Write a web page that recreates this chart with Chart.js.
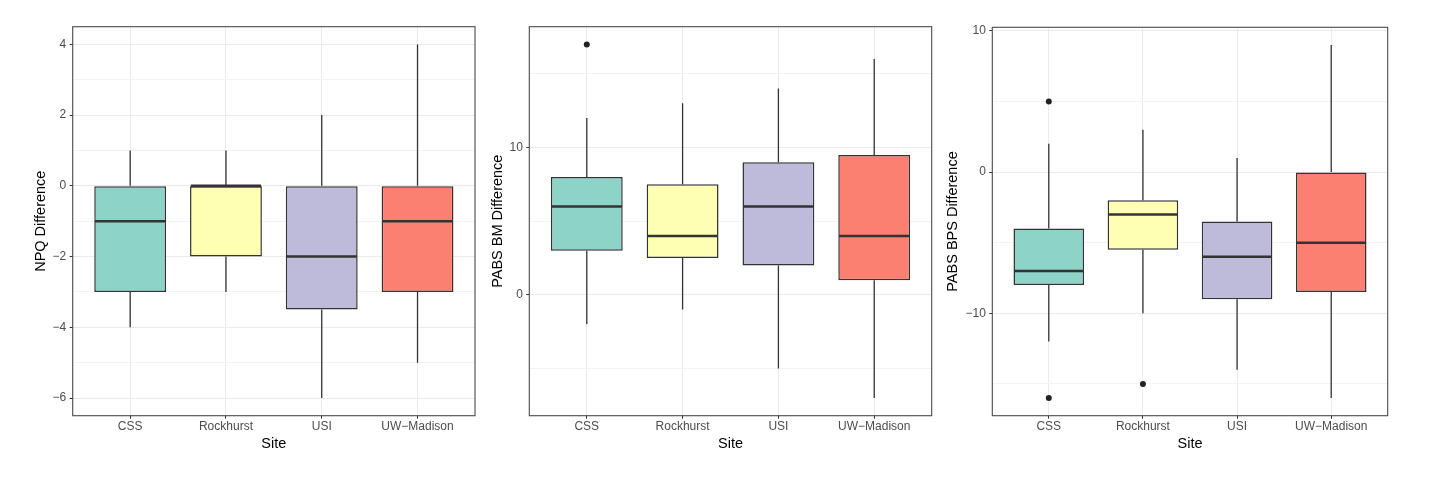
<!DOCTYPE html>
<html>
<head>
<meta charset="utf-8">
<script src="https://cdn.jsdelivr.net/npm/chart.js@4.4.1/dist/chart.umd.min.js"></script>
<style>
  html, body { margin: 0; padding: 0; background: #fff; }
  #wrap { position: relative; width: 1429px; height: 480px; }
  canvas { position: absolute; top: 0; }
</style>
</head>
<body>
<div id="wrap">
  <canvas id="npq" width="480" height="480" style="left:0px"></canvas>
  <canvas id="bm" width="460" height="480" style="left:480px"></canvas>
  <canvas id="bps" width="489" height="480" style="left:940px"></canvas>
</div>
<script>
// ---- data ----
const sites = ['CSS', 'Rockhurst', 'USI', 'UW\u2212Madison'];
const siteColors = ['#8DD3C7', '#FFFFB3', '#BEBADA', '#FB8072'];

// NPQ Difference
const npqLow = [-4, -3, -6, -5];
const npqQ1 = [-3, -2, -3.5, -3];
const npqMedian = [-1, 0, -2, -1];
const npqQ3 = [0, 0, 0, 0];
const npqHigh = [1, 1, 2, 4];
const npqOutliers = [[], [], [], []];
const npqMajorTicks = [-6, -4, -2, 0, 2, 4];
const npqMinorTicks = [-5, -3, -1, 1, 3];

// PABS BM Difference
const bmLow = [-2, -1, -5, -7];
const bmQ1 = [3, 2.5, 2, 1];
const bmMedian = [6, 4, 6, 4];
const bmQ3 = [8, 7.5, 9, 9.5];
const bmHigh = [12, 13, 14, 16];
const bmOutliers = [[17], [], [], []];
const bmMajorTicks = [0, 10];
const bmMinorTicks = [-5, 5, 15];

// PABS BPS Difference
const bpsLow = [-12, -10, -14, -16];
const bpsQ1 = [-8, -5.5, -9, -8.5];
const bpsMedian = [-7, -3, -6, -5];
const bpsQ3 = [-4, -2, -3.5, 0];
const bpsHigh = [2, 3, 1, 9];
const bpsOutliers = [[5, -16], [-15], [], []];
const bpsMajorTicks = [-10, 0, 10];
const bpsMinorTicks = [-15, -5, 5];

// ---- layout ----
const FONT = '"Liberation Sans", Arial, Helvetica, sans-serif';
const H = 480;
const TITLE_SIZE = 14.5;
const X_TITLE_Y = 444;

const panels = [
  { id: 'npq', title: 'NPQ Difference', low: npqLow, q1: npqQ1, median: npqMedian, q3: npqQ3, high: npqHigh,
    outliers: npqOutliers, major: npqMajorTicks, minor: npqMinorTicks,
    left: 0, width: 480, area: { left: 72.7, right: 475, top: 26.7, bottom: 415.7 }, yTitleX: 40.5 },
  { id: 'bm', title: 'PABS BM Difference', low: bmLow, q1: bmQ1, median: bmMedian, q3: bmQ3, high: bmHigh,
    outliers: bmOutliers, major: bmMajorTicks, minor: bmMinorTicks,
    left: 480, width: 460, area: { left: 529.3, right: 931.7, top: 26.7, bottom: 415.7 }, yTitleX: 497.5 },
  { id: 'bps', title: 'PABS BPS Difference', low: bpsLow, q1: bpsQ1, median: bpsMedian, q3: bpsQ3, high: bpsHigh,
    outliers: bpsOutliers, major: bpsMajorTicks, minor: bpsMinorTicks,
    left: 940, width: 489, area: { left: 992.3, right: 1387.7, top: 27.3, bottom: 415.7 }, yTitleX: 952.8 }
];

const fmt = v => (v < 0 ? '\u2212' + Math.abs(v) : String(v));

// whiskers behind the boxes, medians + panel border on top
const boxplotPlugin = {
  id: 'boxplot',
  beforeDatasetsDraw(chart) {
    const p = chart.options.plugins.boxplot;
    const { ctx, scales: { x, y } } = chart;
    ctx.save();
    ctx.strokeStyle = '#333';
    ctx.lineWidth = 1.3;
    sites.forEach((s, i) => {
      const px = x.getPixelForValue(i + 1);
      ctx.beginPath();
      ctx.moveTo(px, y.getPixelForValue(p.q3[i]));
      ctx.lineTo(px, y.getPixelForValue(p.high[i]));
      ctx.moveTo(px, y.getPixelForValue(p.q1[i]));
      ctx.lineTo(px, y.getPixelForValue(p.low[i]));
      ctx.stroke();
    });
    ctx.restore();
  },
  afterDatasetsDraw(chart) {
    const p = chart.options.plugins.boxplot;
    const { ctx, chartArea, scales: { y } } = chart;
    const bars = chart.getDatasetMeta(0).data;
    ctx.save();
    ctx.strokeStyle = '#333';
    ctx.lineWidth = 2.6;
    bars.forEach((bar, i) => {
      const py = y.getPixelForValue(p.median[i]);
      ctx.beginPath();
      ctx.moveTo(bar.x - bar.width / 2 + 0.75, py);
      ctx.lineTo(bar.x + bar.width / 2 - 0.75, py);
      ctx.stroke();
    });
    ctx.strokeStyle = '#4a4a4a';
    ctx.lineWidth = 1.1;
    ctx.strokeRect(chartArea.left, chartArea.top, chartArea.right - chartArea.left, chartArea.bottom - chartArea.top);
    ctx.restore();
  }
};

function makePanel(p) {
  const lh = TITLE_SIZE * 1.2;
  const padLeft = p.yTitleX - p.left - lh / 2;
  const padBottom = H - X_TITLE_Y - lh / 2;
  const yWidth = p.area.left - p.left - padLeft;
  const xHeight = H - padBottom - p.area.bottom;

  const all = [].concat(p.low, p.high, ...p.outliers);
  const lo = Math.min(...all), hi = Math.max(...all), ext = (hi - lo) * 0.05;
  const yTicks = p.major.concat(p.minor).sort((a, b) => a - b);
  const isMajor = v => p.major.includes(v);

  const outlierPoints = [];
  p.outliers.forEach((vals, i) => vals.forEach(v => outlierPoints.push({ x: i + 1, y: v })));

  new Chart(document.getElementById(p.id), {
    type: 'bar',
    data: {
      datasets: [
        {
          type: 'bar',
          data: sites.map((s, i) => ({ x: i + 1, y: [p.q1[i], p.q3[i]] })),
          backgroundColor: siteColors,
          borderColor: '#333',
          borderWidth: 1.5,
          borderSkipped: false,
          barPercentage: 0.75,
          categoryPercentage: 1,
          order: 1
        },
        {
          type: 'scatter',
          data: outlierPoints,
          pointRadius: 3,
          pointBackgroundColor: '#222',
          pointBorderWidth: 0,
          order: 0
        }
      ]
    },
    options: {
      responsive: false,
      animation: false,
      layout: { padding: { left: padLeft, right: p.left + p.width - p.area.right, top: p.area.top, bottom: padBottom } },
      plugins: { legend: { display: false }, tooltip: { enabled: false }, boxplot: p },
      scales: {
        x: {
          type: 'linear', min: 0.4, max: 4.6, offset: false,
          afterBuildTicks: s => { s.ticks = sites.map((_, i) => ({ value: i + 1 })); },
          afterFit: s => { s.height = xHeight; },
          ticks: { callback: v => sites[v - 1], color: '#4D4D4D', font: { family: FONT, size: 12 }, padding: 1, maxRotation: 0, autoSkip: false },
          grid: { offset: false, color: '#EBEBEB', lineWidth: 1, tickLength: 3, tickColor: '#333', tickWidth: 1 },
          border: { display: false },
          title: { display: true, text: 'Site', color: '#000', font: { family: FONT, size: TITLE_SIZE }, padding: 0 }
        },
        y: {
          type: 'linear', min: lo - ext, max: hi + ext,
          afterBuildTicks: s => { s.ticks = yTicks.map(v => ({ value: v })); },
          afterFit: s => { s.width = yWidth; },
          ticks: { callback: v => (isMajor(v) ? fmt(v) : ''), color: '#4D4D4D', font: { family: FONT, size: 12 }, padding: 3.5, autoSkip: false },
          grid: {
            color: c => (c.tick && isMajor(c.tick.value) ? '#EBEBEB' : '#F3F3F3'),
            lineWidth: 1,
            tickLength: 3,
            tickColor: c => (c.tick && isMajor(c.tick.value) ? '#333' : 'rgba(0,0,0,0)'),
            tickWidth: 1
          },
          border: { display: false },
          title: { display: true, text: p.title, color: '#000', font: { family: FONT, size: TITLE_SIZE }, padding: 0 }
        }
      }
    },
    plugins: [boxplotPlugin]
  });
}

panels.forEach(makePanel);
</script>
</body>
</html>
